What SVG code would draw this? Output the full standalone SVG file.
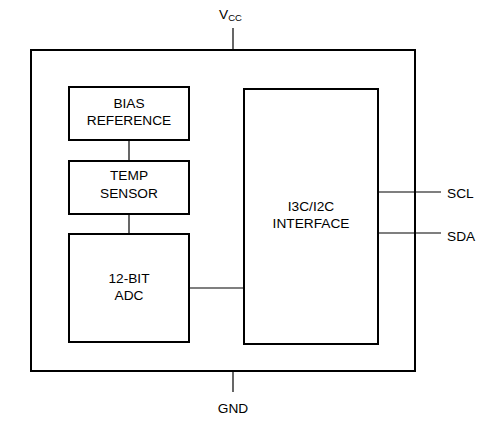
<svg xmlns="http://www.w3.org/2000/svg" width="500" height="424" viewBox="0 0 500 424">
<style>
.box{fill:#fff;stroke:#000;stroke-width:2}
.ln{stroke:#000;stroke-width:1.2;fill:none}
text{font-family:"Liberation Sans",Arial,sans-serif;font-size:13.7px;fill:#000}
.c{text-anchor:middle}
</style>
<rect width="500" height="424" fill="#fff"/>
<g id="chip"><rect class="box" x="31" y="50" width="384" height="321"/></g>
<g id="connectors">
<line class="ln" x1="233" y1="28" x2="233" y2="50"/>
<line class="ln" x1="233" y1="371" x2="233" y2="392"/>
<line class="ln" x1="129" y1="140" x2="129" y2="161"/>
<line class="ln" x1="129" y1="214" x2="129" y2="234"/>
<line class="ln" x1="189" y1="288" x2="244" y2="288"/>
<line class="ln" x1="378" y1="192" x2="441" y2="192"/>
<line class="ln" x1="378" y1="233" x2="441" y2="233"/>
</g>
<g id="bias"><rect class="box" x="69" y="87" width="120" height="53"/>
<text class="c" x="129" y="108">BIAS</text><text class="c" x="129" y="125">REFERENCE</text></g>
<g id="temp"><rect class="box" x="69" y="161" width="120" height="53"/>
<text class="c" x="129" y="180">TEMP</text><text class="c" x="129" y="198">SENSOR</text></g>
<g id="adc"><rect class="box" x="69" y="234" width="120" height="108"/>
<text class="c" x="129" y="283">12-BIT</text><text class="c" x="129" y="300">ADC</text></g>
<g id="interface"><rect class="box" x="244" y="89" width="134" height="255"/>
<text class="c" x="311" y="211">I3C/I2C</text><text class="c" x="311" y="228">INTERFACE</text></g>
<g id="vcc"><text x="219" y="19">V<tspan font-size="9.5" dy="2">CC</tspan></text></g>
<g id="gnd"><text class="c" x="233" y="413">GND</text></g>
<g id="scl"><text x="447" y="198">SCL</text></g>
<g id="sda"><text x="447" y="241">SDA</text></g>
</svg>
